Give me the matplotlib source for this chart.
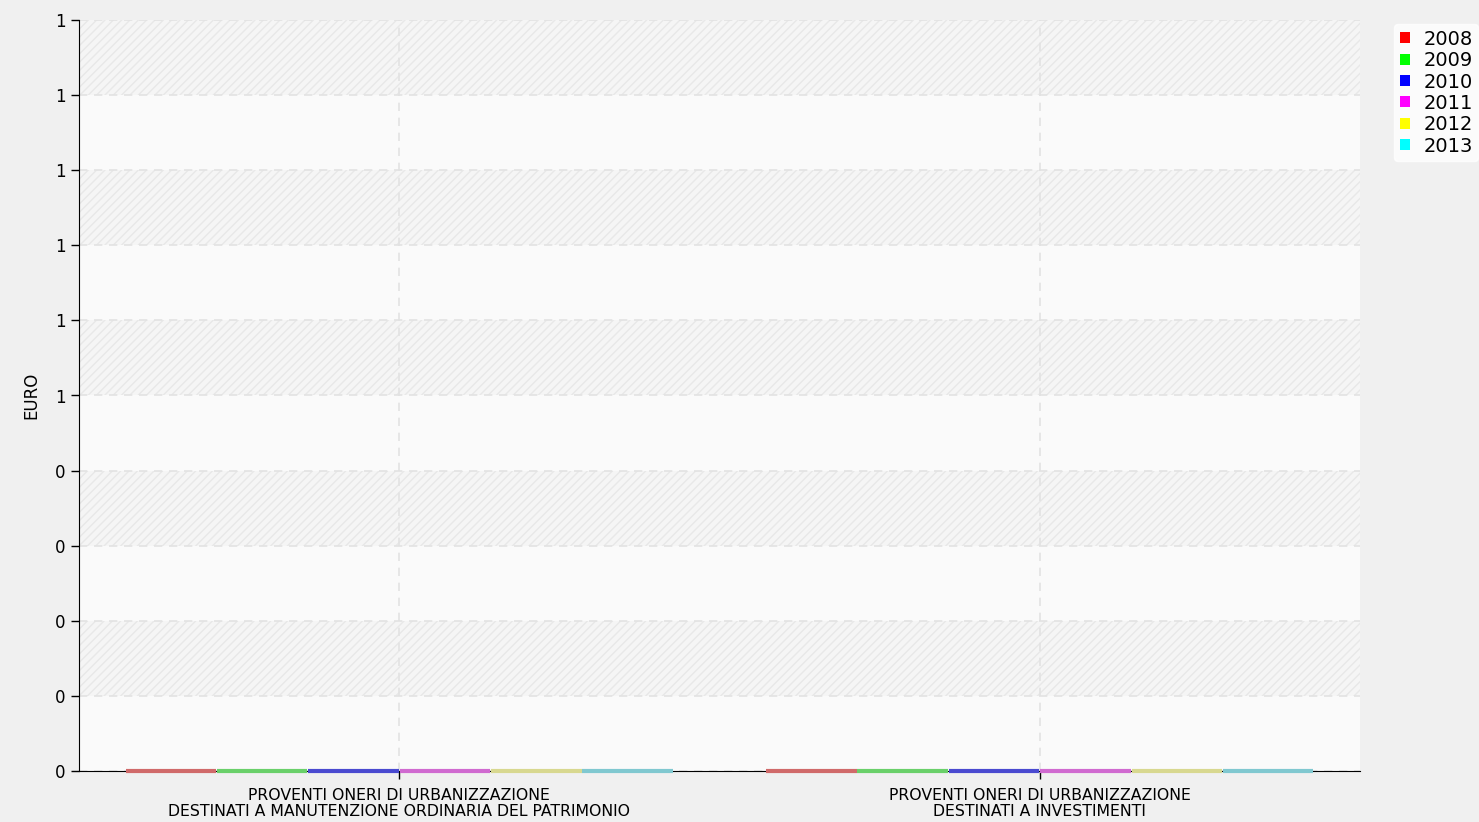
import numpy as np
import matplotlib
matplotlib.use('Agg')
import matplotlib.pyplot as plt
from matplotlib.patches import Patch

categories = ['PROVENTI ONERI DI URBANIZZAZIONE\nDESTINATI A MANUTENZIONE ORDINARIA DEL PATRIMONIO',
              'PROVENTI ONERI DI URBANIZZAZIONE\nDESTINATI A INVESTIMENTI']
years = ['2008', '2009', '2010', '2011', '2012', '2013']
v2008 = [0, 0]
v2009 = [0, 0]
v2010 = [0, 0]
v2011 = [0, 0]
v2012 = [0, 0]
v2013 = [0, 0]
values = [v2008, v2009, v2010, v2011, v2012, v2013]
colors = ['#ff0000', '#00ff00', '#0000ff', '#ff00ff', '#ffff00', '#00ffff']
bar_colors = ['#d06a6a', '#6ad06a', '#4a4ad0', '#d06ad0', '#d8d890', '#80c8d0']
yticks = np.arange(0, 1.01, 0.1)

plt.rcParams['hatch.color'] = '#e4e4e4'
plt.rcParams['hatch.linewidth'] = 1.0

fig = plt.figure(figsize=(14.79, 8.22), dpi=100, facecolor='#f0f0f0')
ax = fig.add_axes([79 / 1479, 1 - 771 / 822, 1281 / 1479, 751 / 822])
ax.set_facecolor('#fafafa')

# alternating bands
for i in range(len(yticks) - 1):
    if i % 2 == 1:
        ax.axhspan(yticks[i], yticks[i + 1], facecolor='#f5f5f5', hatch='////',
                   edgecolor='#e8e8e8', linewidth=0, zorder=0)

x = np.arange(len(categories))
n = len(years)
w = 0.856 / n
for i, (yr, vals) in enumerate(zip(years, values)):
    pos = x - 0.428 + w * (i + 0.5)
    ax.bar(pos, vals, width=w * 0.99, bottom=0, color=bar_colors[i],
           edgecolor=bar_colors[i], linewidth=3, zorder=3, clip_on=False)

ax.set_xlim(-0.5, len(categories) - 0.5)
ax.set_ylim(0, 1)
ax.set_yticks(yticks)
ax.set_yticklabels([str(int(np.floor(t + 0.5 + 1e-9))) for t in yticks], fontsize=12)
ax.set_xticks(x)
ax.set_xticklabels(categories, fontsize=11.3, linespacing=1.15)

ax.grid(True, color='#e2e2e2', linestyle=(0, (5, 4)), linewidth=1.2, zorder=1)
ax.set_axisbelow(True)

for s in ['top', 'right']:
    ax.spines[s].set_visible(False)
ax.spines['left'].set_color('black')
ax.spines['bottom'].set_color('black')
ax.tick_params(axis='both', direction='out', length=6, width=1, colors='black')
ax.tick_params(axis='x', pad=6)

ax.set_ylabel('EURO', fontsize=12, labelpad=11)

handles = [Patch(facecolor=c, edgecolor='none') for c in colors]
leg = fig.legend(handles, years, loc='upper left', bbox_to_anchor=(1394 / 1479, 1 - 24 / 822),
                 frameon=True, fontsize=14, handlelength=0.5, handleheight=0.5,
                 handletextpad=0.7, labelspacing=0.12, borderpad=0.3, borderaxespad=0)
leg.get_frame().set_facecolor('white')
leg.get_frame().set_edgecolor('white')

fig.savefig('out.png', dpi=100, facecolor=fig.get_facecolor())
